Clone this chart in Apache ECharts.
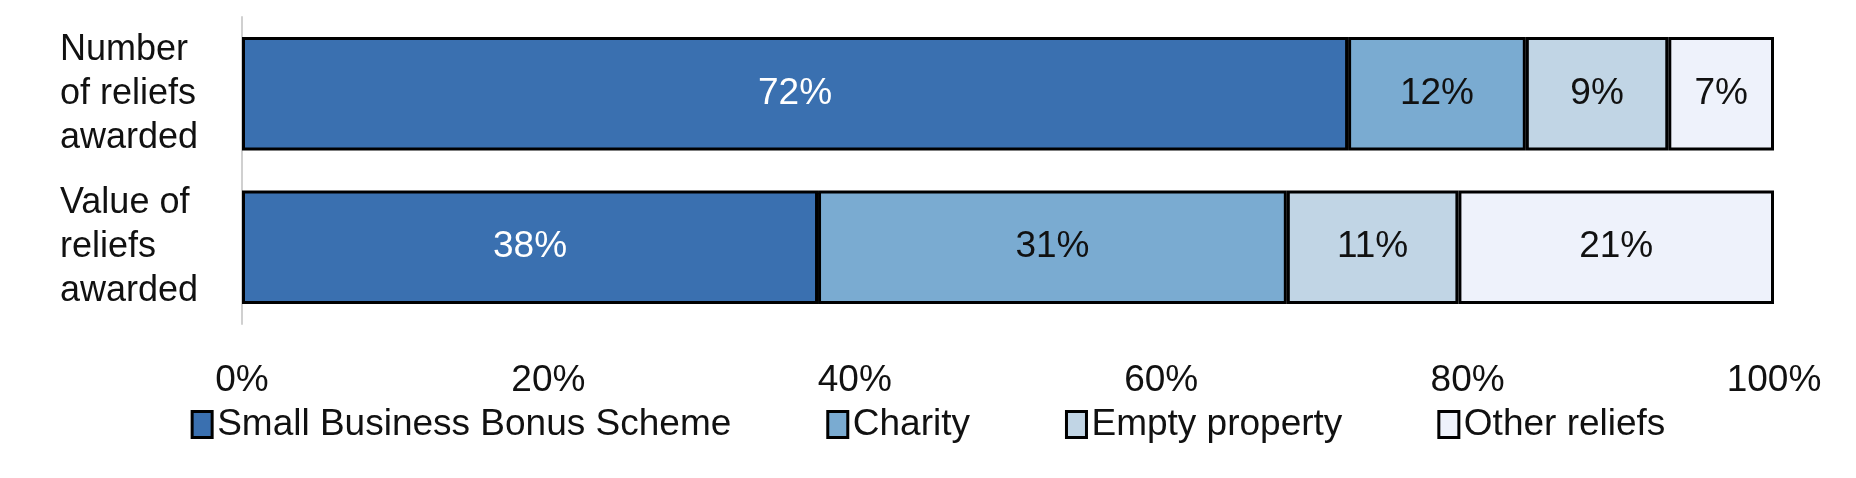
<!DOCTYPE html><html><head><meta charset="utf-8"><script src="https://cdn.jsdelivr.net/npm/echarts@6/dist/echarts.min.js"></script>
<style>body{margin:0}#c{width:1856px;height:478px}</style></head><body><div id="c"></div><script>
const categories=['Number\nof reliefs\nawarded','Value of\nreliefs\nawarded'];
const seriesNames=['Small Business Bonus Scheme','Charity','Empty property','Other reliefs'];
const sbbs=[72.2,37.6];
const charity=[11.6,30.6];
const empty=[9.3,11.2];
const other=[6.9,20.6];
const colors=['#3a70b0','#7aabd1','#c1d5e5','#eef2fb'];
const labelColors=['#fff','#111','#111','#111'];
const F='Liberation Sans, Arial, sans-serif';
const data=[sbbs,charity,empty,other];
const chart=echarts.init(document.getElementById('c'));
chart.setOption({
 animation:false,
 grid:{left:242,right:82,top:17,bottom:154},
 legend:{bottom:30,left:'center',itemWidth:20,itemHeight:26,itemGap:95,icon:'rect',
   textStyle:{fontFamily:F,fontSize:37,color:'#111'},
   data:seriesNames.map((n,i)=>({name:n,itemStyle:{color:colors[i],borderColor:'#000',borderWidth:3}}))},
 xAxis:{type:'value',min:0,max:100,interval:20,splitLine:{show:false},axisLine:{show:false},axisTick:{show:false},
   axisLabel:{formatter:'{value}%',fontFamily:F,fontSize:37,color:'#111',margin:38}},
 yAxis:{type:'category',inverse:true,data:categories,axisTick:{show:false},
   axisLine:{show:true,lineStyle:{color:'#d0d0d0',width:2}},
   axisLabel:{fontFamily:F,fontSize:36,color:'#111',align:'left',margin:182,lineHeight:44}},
 series:data.map((d,i)=>({name:seriesNames[i],type:'bar',stack:'a',barWidth:'74%',data:d,
   itemStyle:{color:colors[i],borderColor:'#000',borderWidth:3},
   label:{show:true,position:'inside',fontFamily:F,fontSize:37,color:labelColors[i],formatter:p=>Math.round(p.value)+'%'}}))
});
</script></body></html>
